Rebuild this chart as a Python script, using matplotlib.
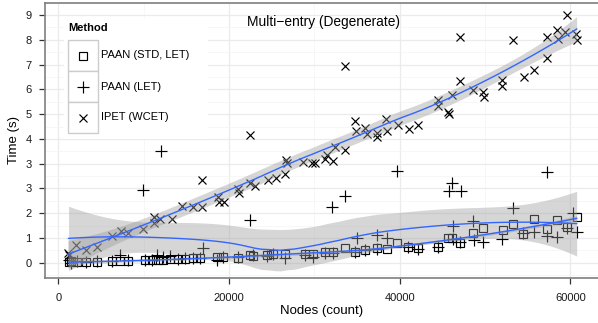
import numpy as np
import matplotlib
matplotlib.use("Agg")
import matplotlib.pyplot as plt
from matplotlib.patches import Rectangle
from matplotlib.lines import Line2D

plt.rcParams['font.family'] = ['Liberation Sans', 'DejaVu Sans']

# ------------------------------------------------------------------
# Data (y in axis-tick units)
# ------------------------------------------------------------------
ytick_labels = ['0', '1', '2', '3', '3', '4', '5', '6', '7', '8', '9']
xtick_values = [0, 20000, 40000, 60000]

ipet_nodes = [1100, 1300, 2100, 3250, 4500, 6350, 7300, 8200, 9950, 11200,
              11250, 11900, 13300, 14450, 15800, 16800, 16800, 18750, 18800, 19400,
              21100, 21150, 22450, 22500, 23050, 24600, 25500, 26550, 26650, 26750,
              28700, 29700, 30100, 31250, 31450, 32250, 32450, 33600, 33600, 34750,
              34850, 35950, 36150, 37300, 37350, 38350, 38500, 39800, 41100, 42100,
              44550, 44550, 45700, 45800, 46150, 47100, 47100, 48650, 49800, 49850,
              51950, 52000, 53250, 54600, 55750, 57250, 57250, 58400, 58600, 59400,
              59600, 60700, 60750]
ipet_time = [0.38, 0.31, 0.71, 0.51, 0.62, 1.06, 1.27, 1.18, 1.35, 1.86,
             1.61, 1.75, 1.75, 2.29, 2.26, 2.26, 3.36, 2.66, 2.46, 2.46,
             2.96, 2.80, 3.23, 5.15, 3.09, 3.33, 3.44, 3.58, 4.15, 4.02,
             4.07, 4.03, 4.01, 4.17, 4.34, 4.11, 4.68, 4.57, 7.94, 5.73,
             5.32, 5.42, 5.19, 5.22, 5.06, 5.82, 5.32, 5.55, 5.38, 5.58,
             6.56, 6.32, 6.09, 6.02, 6.76, 9.11, 7.34, 6.96, 6.90, 6.69,
             7.37, 7.13, 8.98, 7.48, 7.77, 9.11, 8.28, 9.38, 9.05, 9.31,
             9.99, 9.25, 9.01]

std_nodes = [1200, 1500, 2150, 3300, 4500, 6250, 7250, 8200, 10150, 10950,
             11700, 12300, 13100, 14050, 14850, 15800, 16600, 18550, 19350, 21100,
             22450, 22850, 24400, 25200, 26550, 28900, 29900, 31250, 32250, 33600,
             34750, 35950, 37300, 38500, 39750, 41000, 42100, 44550, 45700, 46100,
             47100, 48650, 49800, 52100, 53300, 54500, 55750, 57250, 58400, 59600,
             60750]
std_time = [0.02, 0.05, 0.04, 0.03, 0.04, 0.06, 0.07, 0.06, 0.09, 0.10,
            0.10, 0.12, 0.14, 0.14, 0.15, 0.17, 0.18, 0.22, 0.22, 0.20,
            0.30, 0.26, 0.32, 0.34, 0.36, 0.36, 0.34, 0.44, 0.44, 0.60,
            0.44, 0.51, 0.58, 0.55, 0.78, 0.65, 0.60, 0.65, 1.01, 0.98,
            0.78, 1.19, 1.39, 1.32, 1.55, 1.15, 1.76, 1.36, 1.72, 1.45,
            1.85]

# the first two PAAN (LET) points sit behind the legend box; their values are
# estimates implied by the smooth's raised left end and wide band there
let_nodes = [4500, 13500,
             1200, 1500, 2150, 3300, 4500, 6250, 7250, 8200, 9950, 10150,
             10950, 11550, 12050, 12300, 13100, 14050, 14850, 15800, 16600, 17000,
             18550, 19350, 21100, 22450, 22850, 24400, 25200, 26550, 28900, 29900,
             31250, 32050, 32250, 33600, 34750, 34950, 35950, 37300, 37350, 38500,
             39650, 41000, 42100, 44550, 45800, 46100, 46200, 46300, 47250, 47100,
             48650, 48700, 49800, 52000, 53300, 54500, 55700, 57250, 57300, 58400,
             59600, 60350, 60750]
let_time = [7.0, 7.5,
            0.10, -0.02, 0.05, 0.02, 0.05, 0.08, 0.30, 0.10, 2.93, 0.10,
            0.12, 0.31, 4.52, 0.25, 0.28, 0.15, 0.18, 0.20, 0.20, 0.58,
            0.12, 0.25, 0.25, 1.72, 0.30, 0.28, 0.35, 0.20, 0.30, 0.24,
            0.40, 2.26, 0.40, 2.69, 0.45, 0.98, 0.50, 1.12, 0.55, 0.98,
            3.71, 0.62, 0.55, 0.65, 2.90, 3.23, 1.48, 0.95, 2.90, 0.82,
            1.68, 0.90, 0.85, 0.94, 2.19, 1.19, 1.25, 3.67, 1.08, 1.05,
            1.42, 1.99, 1.23]

series = [
    ('PAAN (STD, LET)', std_nodes, std_time, 's', 5.2),
    ('PAAN (LET)', let_nodes, let_time, '+', 8.5),
    ('IPET (WCET)', ipet_nodes, ipet_time, 'x', 6.0),
]


def loess(x, y, grid, span=0.75):
    # local quadratic regression with tricube weights (like R's loess)
    x = np.asarray(x, float) / 1e4
    y = np.asarray(y, float)
    g = np.asarray(grid, float) / 1e4
    n = len(x)
    q = int(np.floor(n * span))

    def rows(pts):
        out = []
        for x0 in pts:
            d = np.abs(x - x0)
            h = np.sort(d)[q - 1]
            w = np.clip(1 - (d / h) ** 3, 0, None) ** 3
            X = np.column_stack([np.ones(n), x - x0, (x - x0) ** 2])
            A = X.T @ (w[:, None] * X)
            out.append(np.linalg.solve(A, (X * w[:, None]).T)[0])
        return np.array(out)

    S = rows(x)
    R = np.eye(n) - S
    delta1 = np.trace(R.T @ R)
    sigma = np.sqrt(np.sum((R @ y) ** 2) / delta1)
    L = rows(g)
    fit = L @ y
    se = sigma * np.sqrt(np.sum(L ** 2, axis=1))
    return fit, 1.99 * se


fig = plt.figure(figsize=(5.98, 3.23), dpi=100)
W, H = 598.0, 323.0
ax = fig.add_axes([45 / W, (H - 278.3) / H, (W - 45) / W, 275.6 / H])

# points first, smooths drawn over them (ggplot layer order)
for name, xs, ys, mk, ms in series:
    ax.plot(xs, ys, linestyle='none', marker=mk, ms=ms, mfc='none',
            mec='black', mew=0.85, zorder=2)

for name, xs, ys, mk, ms in series:
    grid = np.linspace(min(xs), max(xs), 80)
    fit, ci = loess(xs, ys, grid)
    ax.fill_between(grid, fit - ci, fit + ci, color='#999999', alpha=0.4,
                    linewidth=0, zorder=3)
    ax.plot(grid, fit, color='#3366FF', lw=1.0, zorder=4)

ax.set_xlim(-1560, 63250)
ax.set_ylim(-0.63, 10.48)
ax.set_xticks(xtick_values)
ax.set_xticklabels([str(v) for v in xtick_values])
ax.set_xticks([10000, 30000, 50000], minor=True)
ax.set_yticks(range(len(ytick_labels)))
ax.set_yticklabels(ytick_labels)
ax.set_yticks(np.arange(-0.5, 10.6, 1.0), minor=True)

ax.grid(True, which='major', color='#ebebeb', lw=0.9, zorder=0)
ax.grid(True, which='minor', color='#f4f4f4', lw=0.5, zorder=0)
ax.set_axisbelow(True)
ax.tick_params(which='major', direction='out', length=4.3, width=0.9,
               color='#333333', labelsize=8, labelcolor='#1a1a1a')
ax.tick_params(axis='x', which='major', pad=6)
ax.tick_params(axis='y', which='major', pad=5.5)
ax.tick_params(which='minor', length=0)
for side in ['left', 'top', 'bottom']:
    ax.spines[side].set_color('#7f7f7f')
    ax.spines[side].set_linewidth(1.2)
ax.spines['right'].set_visible(False)

ax.set_xlabel('Nodes (count)', fontsize=9.5, labelpad=2)
ax.set_ylabel('Time (s)', fontsize=9.5, labelpad=4)

ax.text(0.503, 0.93, 'Multi\u2212entry (Degenerate)', transform=ax.transAxes,
        ha='center', va='center', fontsize=9.9)

# ggplot-style legend inside the panel, placed in pixel coordinates
def fx(px):
    return px / W


def fy(py):
    return 1 - py / H


fig.add_artist(Rectangle((fx(64), fy(139)), (208 - 64) / W, (139 - 19) / H,
                         transform=fig.transFigure, facecolor='white',
                         edgecolor='none', zorder=10))
fig.text(fx(68), fy(28), 'Method', fontsize=8, fontweight='bold',
         ha='left', va='center', zorder=11)
key_top = 40.0
key_h = 31.0
for i, (name, xs, ys, mk, ms) in enumerate(series):
    top = key_top + i * key_h
    fig.add_artist(Rectangle((fx(67.7), fy(top + key_h)), 30.6 / W, key_h / H,
                             transform=fig.transFigure, facecolor='white',
                             edgecolor='#cccccc', lw=1.0, zorder=11))
    cy = top + key_h / 2
    fig.add_artist(Line2D([fx(83)], [fy(cy)], marker=mk, ms=ms, mfc='none',
                          mec='black', mew=0.85, linestyle='none',
                          transform=fig.transFigure, zorder=12))
    fig.text(fx(101), fy(cy), name, fontsize=8, ha='left', va='center',
             zorder=12)

fig.savefig('out.png', dpi=100)
